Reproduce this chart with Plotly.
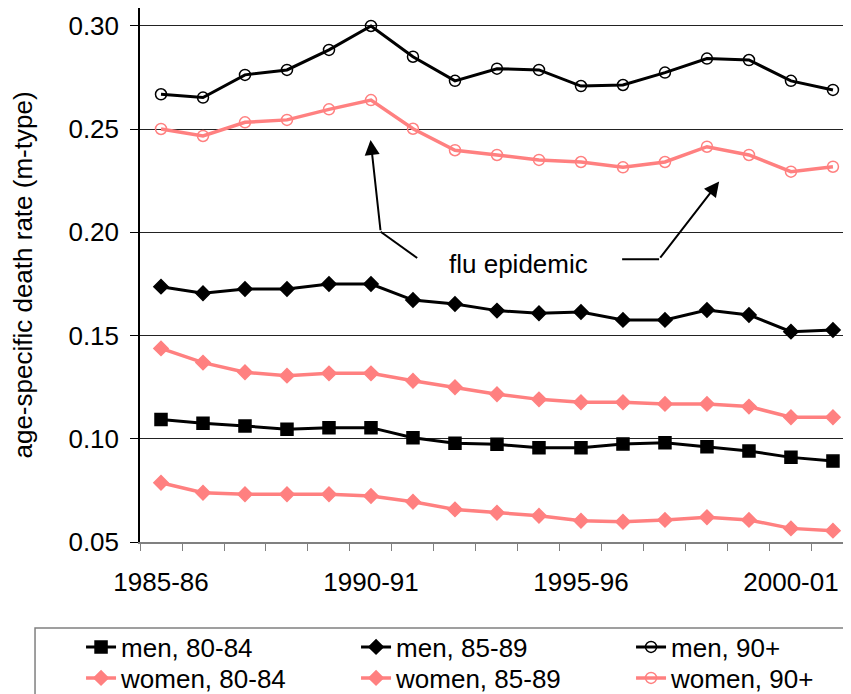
import plotly.graph_objects as go

seasons = ["1985-86", "1986-87", "1987-88", "1988-89", "1989-90", "1990-91",
           "1991-92", "1992-93", "1993-94", "1994-95", "1995-96", "1996-97",
           "1997-98", "1998-99", "1999-00", "2000-01", "2001-02"]

men_80_84 = [0.1094, 0.1075, 0.1062, 0.1046, 0.1054, 0.1054, 0.1005, 0.0978, 0.0973,
             0.0957, 0.0957, 0.0975, 0.0981, 0.0962, 0.0941, 0.0910, 0.0892]
men_85_89 = [0.1737, 0.1705, 0.1726, 0.1726, 0.1750, 0.1750, 0.1672, 0.1653, 0.1621,
             0.1608, 0.1614, 0.1576, 0.1576, 0.1624, 0.1600, 0.1519, 0.1527]
men_90 = [0.2669, 0.2653, 0.2763, 0.2787, 0.2884, 0.3000, 0.2851, 0.2734, 0.2793,
          0.2787, 0.2709, 0.2714, 0.2774, 0.2842, 0.2835, 0.2734, 0.2690]
women_80_84 = [0.0787, 0.0739, 0.0731, 0.0731, 0.0731, 0.0723, 0.0695, 0.0658, 0.0642,
               0.0627, 0.0603, 0.0598, 0.0607, 0.0620, 0.0607, 0.0566, 0.0555]
women_85_89 = [0.1438, 0.1369, 0.1322, 0.1306, 0.1317, 0.1317, 0.1281, 0.1250, 0.1216,
               0.1191, 0.1177, 0.1177, 0.1169, 0.1169, 0.1156, 0.1104, 0.1104]
women_90 = [0.2501, 0.2467, 0.2533, 0.2545, 0.2596, 0.2641, 0.2502, 0.2398, 0.2375,
            0.2351, 0.2341, 0.2315, 0.2341, 0.2415, 0.2375, 0.2294, 0.2318]

BLACK = "#000000"
PINK = "#FF8080"
FONT = "Liberation Sans, Arial, sans-serif"
FS = 26

x = list(range(len(seasons)))

# name, values, colour, symbol, size, line width, legend row
series = [
    ("men, 80-84", men_80_84, BLACK, "square", 12, 3, "legend"),
    ("men, 85-89", men_85_89, BLACK, "diamond", 11, 3, "legend"),
    ("men, 90+", men_90, BLACK, "circle-open", 11, 3, "legend"),
    ("women, 80-84", women_80_84, PINK, "diamond", 11, 3.5, "legend2"),
    ("women, 85-89", women_85_89, PINK, "diamond", 11, 3.5, "legend2"),
    ("women, 90+", women_90, PINK, "circle-open", 11, 3.5, "legend2"),
]

fig = go.Figure()
for name, vals, color, sym, size, lw, leg in series:
    fig.add_trace(go.Scatter(
        x=x, y=vals, name=name, mode="lines+markers", legend=leg,
        line=dict(color=color, width=lw),
        marker=dict(symbol=sym, size=size, color=color, line=dict(color=color, width=1.5)),
    ))

# flu epidemic callout
fig.add_annotation(x=4.99, y=0.2448, ax=5.23, ay=0.2003, xref="x", yref="y",
                   axref="x", ayref="y", text="", showarrow=True,
                   arrowhead=2, arrowsize=1.5, arrowwidth=2, arrowcolor=BLACK)
fig.add_annotation(x=13.29, y=0.2246, ax=11.86, ay=0.1870, xref="x", yref="y",
                   axref="x", ayref="y", text="", showarrow=True,
                   arrowhead=2, arrowsize=1.5, arrowwidth=2, arrowcolor=BLACK)
fig.add_shape(type="line", x0=5.23, y0=0.2003, x1=6.10, y1=0.1876,
              line=dict(color=BLACK, width=2))
fig.add_shape(type="line", x0=10.98, y0=0.1870, x1=11.86, y1=0.1870,
              line=dict(color=BLACK, width=2))
fig.add_annotation(x=8.52, y=0.1847, text="flu epidemic", showarrow=False,
                   font=dict(family=FONT, size=FS, color=BLACK))

# legend frame
fig.add_shape(type="rect", xref="paper", yref="paper",
              x0=-0.146, x1=1.05, y0=-0.35, y1=-0.161,
              line=dict(color="#808080", width=1.5), fillcolor="rgba(0,0,0,0)")

leg_common = dict(orientation="h", xanchor="left", yanchor="middle",
                  entrywidth=230, font=dict(family=FONT, size=FS, color=BLACK),
                  bgcolor="rgba(0,0,0,0)")

fig.update_layout(
    width=851, height=694,
    margin=dict(l=132, r=0, t=0, b=160, autoexpand=False),
    paper_bgcolor="white", plot_bgcolor="white",
    font=dict(family=FONT, size=FS, color=BLACK),
    showlegend=True,
    legend=dict(x=-0.082, y=-0.1966, **leg_common),
    legend2=dict(x=-0.082, y=-0.2547, **leg_common),
    xaxis=dict(
        range=[-0.5, 16.62], tickmode="array", tickvals=x[::5],
        ticktext=seasons[::5], ticks="outside", ticklen=16,
        tickcolor="rgba(0,0,0,0)", showgrid=False, zeroline=False,
        showline=True, linecolor="#808080", linewidth=1.5, automargin=False,
        minor=dict(tickmode="array", tickvals=[i - 0.5 for i in range(len(seasons) + 1)],
                   ticks="outside", ticklen=7, tickcolor="#808080", showgrid=False),
        tickfont=dict(size=FS),
    ),
    yaxis=dict(
        range=[0.05, 0.3087], tickmode="linear", tick0=0.05, dtick=0.05,
        tickformat=".2f", ticks="outside", ticklen=8, tickcolor=BLACK,
        ticklabelstandoff=6, automargin=False,
        showgrid=True, gridcolor="#222222", gridwidth=1, zeroline=False,
        showline=True, linecolor=BLACK, linewidth=1.5,
        title=dict(text="age-specific death rate (m-type)", font=dict(size=FS), standoff=36),
        tickfont=dict(size=FS),
    ),
)

fig.write_html("out.html")
